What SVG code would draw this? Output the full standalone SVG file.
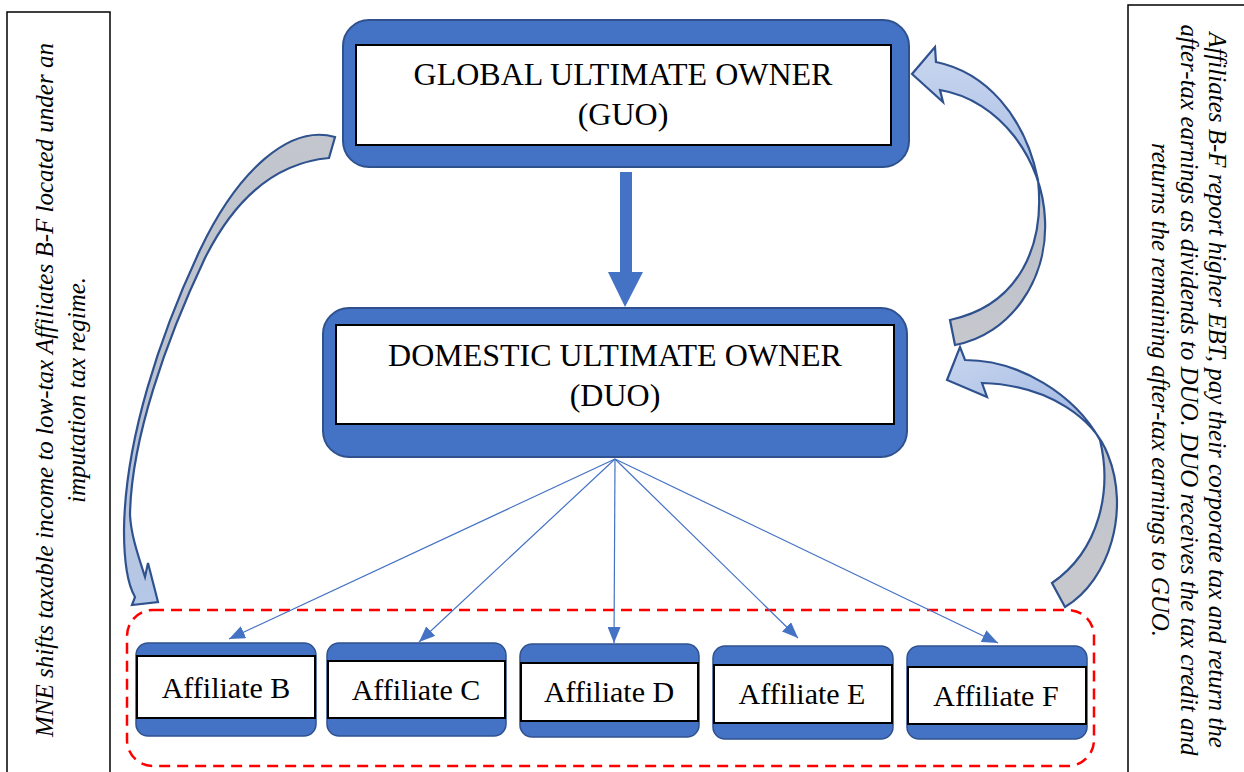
<svg xmlns="http://www.w3.org/2000/svg" width="1244" height="772" viewBox="0 0 1244 772">
<style>
.outer{fill:#4472C4;stroke:#2F528F;stroke-width:2}
.inner{fill:#fff;stroke:#000;stroke-width:2}
.aff{fill:#4472C4;stroke:#2F528F;stroke-width:1.5}
.big{font-family:"Liberation Serif","Times New Roman",serif;font-size:32px;fill:#000;text-anchor:middle}
.lbl{font-family:"Liberation Serif","Times New Roman",serif;font-size:30px;fill:#000;text-anchor:middle}
.side{font-family:"Liberation Serif","Times New Roman",serif;font-size:25px;font-style:italic;fill:#000;text-anchor:middle}
.thin{stroke:#4472C4;stroke-width:1.2;fill:none}
.curve{stroke:#2F528F;stroke-width:2.2;stroke-linejoin:miter}
</style>
<defs>
<marker id="ah" markerUnits="userSpaceOnUse" markerWidth="16" markerHeight="13" refX="16" refY="6.5" orient="auto">
<path d="M0,0 L16,6.5 L0,13 z" fill="#4472C4"/>
</marker>
<linearGradient id="gL" x1="0" y1="0" x2="0" y2="1">
<stop offset="0" stop-color="#C3C6CD"/>
<stop offset="0.5" stop-color="#BCC2CE"/>
<stop offset="1" stop-color="#B5C8E8"/>
</linearGradient>
<linearGradient id="gU" x1="0" y1="0" x2="0" y2="1">
<stop offset="0" stop-color="#C9D6EE"/>
<stop offset="0.45" stop-color="#A9BEE6"/>
<stop offset="0.55" stop-color="#B9BECA"/>
<stop offset="1" stop-color="#C6C8CD"/>
</linearGradient>
<linearGradient id="gR" x1="0" y1="0" x2="0.3" y2="1">
<stop offset="0" stop-color="#C9D6EE"/>
<stop offset="0.4" stop-color="#A9BEE6"/>
<stop offset="0.5" stop-color="#B9BECA"/>
<stop offset="1" stop-color="#C6C8CD"/>
</linearGradient>
</defs>

<g id="left-note">
<rect x="7" y="12" width="103" height="780" fill="#fff" stroke="#000" stroke-width="1.5"/>
<text class="side" transform="translate(53,390) rotate(-90)">MNE shifts taxable income to low-tax Affiliates B-F located under an</text>
<text class="side" transform="translate(85,390) rotate(-90)">imputation tax regime.</text>
</g>

<g id="right-note">
<rect x="1128" y="5" width="130" height="790" fill="#fff" stroke="#000" stroke-width="1.5"/>
<text class="side" transform="translate(1209,390) rotate(90)">Affiliates B-F report higher EBT, pay their corporate tax and return the</text>
<text class="side" transform="translate(1181,390) rotate(90)">after-tax earnings as dividends to DUO. DUO receives the tax credit and</text>
<text class="side" transform="translate(1152,390) rotate(90)">returns the remaining after-tax earnings to GUO.</text>
</g>

<g id="guo">
<rect class="outer" x="343" y="20" width="566" height="147" rx="26"/>
<rect class="inner" x="356" y="45" width="535" height="100"/>
<text class="big" x="623" y="85">GLOBAL ULTIMATE OWNER</text>
<text class="big" x="623" y="125">(GUO)</text>
</g>

<g id="duo">
<rect class="outer" x="323" y="308" width="584" height="149" rx="26"/>
<rect class="inner" x="336" y="325" width="558" height="99"/>
<text class="big" x="615" y="366">DOMESTIC ULTIMATE OWNER</text>
<text class="big" x="615" y="406">(DUO)</text>
</g>

<g id="group-boundary">
<rect x="127" y="610" width="967" height="156" rx="26" fill="none" stroke="#FF0000" stroke-width="2.5" stroke-dasharray="11,7"/>
</g>

<g id="affiliate-b">
<rect class="aff" x="136" y="643" width="180" height="93" rx="12"/>
<rect class="inner" x="137" y="656" width="178" height="62"/>
<text class="lbl" x="226" y="698">Affiliate B</text>
</g>
<g id="affiliate-c">
<rect class="aff" x="327" y="643" width="179" height="93" rx="12"/>
<rect class="inner" x="328" y="661" width="177" height="57"/>
<text class="lbl" x="416" y="700">Affiliate C</text>
</g>
<g id="affiliate-d">
<rect class="aff" x="520" y="644" width="179" height="93" rx="12"/>
<rect class="inner" x="521" y="663" width="177" height="58"/>
<text class="lbl" x="609" y="702">Affiliate D</text>
</g>
<g id="affiliate-e">
<rect class="aff" x="713" y="646" width="180" height="93" rx="12"/>
<rect class="inner" x="714" y="665" width="178" height="58"/>
<text class="lbl" x="802" y="704">Affiliate E</text>
</g>
<g id="affiliate-f">
<rect class="aff" x="907" y="646" width="180" height="93" rx="12"/>
<rect class="inner" x="908" y="667" width="178" height="57"/>
<text class="lbl" x="996" y="706">Affiliate F</text>
</g>

<g id="connectors">
<path d="M620,172 H632 V272 H643 L625,307 L608,272 H620 Z" fill="#4472C4"/>
<line class="thin" x1="615" y1="459" x2="229" y2="639" marker-end="url(#ah)"/>
<line class="thin" x1="615" y1="459" x2="419" y2="642" marker-end="url(#ah)"/>
<line class="thin" x1="615" y1="459" x2="614" y2="643" marker-end="url(#ah)"/>
<line class="thin" x1="615" y1="459" x2="798" y2="638" marker-end="url(#ah)"/>
<line class="thin" x1="615" y1="459" x2="998" y2="643" marker-end="url(#ah)"/>
<path class="curve" fill="url(#gL)" d="M335,137 C290,124 238,170 200,250 C160,335 125,440 124,530 C124,560 128,585 135,597 L132,605 L158,602 L148,563 L145,577 C138,555 131,535 130,515 C131,440 166,340 205,258 C240,188 285,162 329,158 Z"/>
<path class="curve" fill="url(#gU)" d="M936,62 C985,72 1025,115 1038,180 C1045,245 1020,305 950,320 L955,345 C1010,335 1048,280 1045,220 C1043,160 1000,100 940,90 L943,102 L912,74 L935,47 Z"/>
<path class="curve" fill="url(#gR)" d="M965,360 C1020,360 1075,395 1100,440 C1112,490 1100,550 1052,583 L1065,607 C1110,580 1130,510 1108,455 C1095,420 1050,385 982,383 L987,397 L947,380 L960,347 Z"/>
</g>
</svg>
